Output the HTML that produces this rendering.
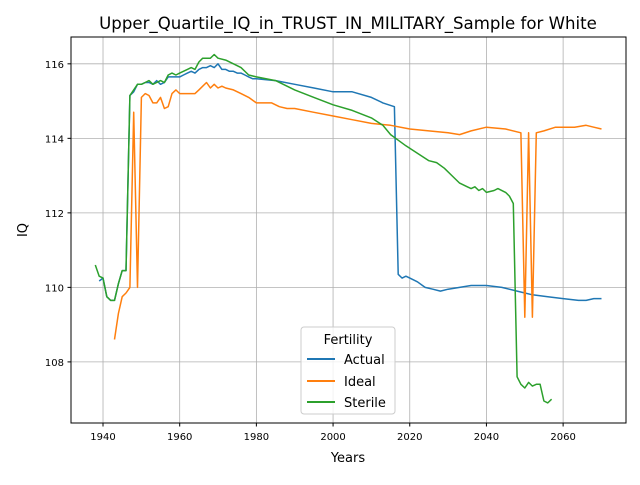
<!DOCTYPE html>
<html><head><meta charset="utf-8"><style>
body{margin:0;background:#fff}
text{font-family:"DejaVu Sans","Liberation Sans",sans-serif}
</style></head><body>
<svg id="chart" width="640" height="480" xmlns="http://www.w3.org/2000/svg">
<rect width="640" height="480" fill="#fff"/>
<text x="348" y="29" font-size="16.6" text-anchor="middle">Upper_Quartile_IQ_in_TRUST_IN_MILITARY_Sample for White</text>
<g id="grid"></g>
<g id="series"></g>
<rect x="71" y="37" width="555" height="386" fill="none" stroke="#000" stroke-width="1"/>
<g id="ticks"></g>
<text x="348" y="462" font-size="13" text-anchor="middle">Years</text>
<text x="27" y="230" font-size="13" text-anchor="middle" transform="rotate(-90 27 230)">IQ</text>
<g>
<rect x="301" y="327" width="94" height="87" rx="3" fill="#fff" fill-opacity="0.8" stroke="#ccc"/>
<text x="348" y="344" font-size="13" text-anchor="middle">Fertility</text>
<line x1="307" y1="359" x2="335" y2="359" stroke="#1f77b4" stroke-width="2"/>
<text x="344" y="364" font-size="13">Actual</text>
<line x1="307" y1="381" x2="335" y2="381" stroke="#ff7f0e" stroke-width="2"/>
<text x="344" y="386" font-size="13">Ideal</text>
<line x1="307" y1="402" x2="335" y2="402" stroke="#2ca02c" stroke-width="2"/>
<text x="344" y="407" font-size="13">Sterile</text>
</g>
</svg>
<script>
const xTicks=[1940,1960,1980,2000,2020,2040,2060];
const yTicks=[108,110,112,114,116];
const actualYears=[1939,1940,1941,1942,1943,1944,1945,1946,1947,1948,1949,1950,1951,1952,1953,1954,1955,1956,1957,1958,1959,1960,1961,1962,1963,1964,1965,1966,1967,1968,1969,1970,1971,1972,1973,1974,1975,1976,1977,1978,1979,1980,1985,1990,1995,2000,2005,2010,2013,2016,2017,2018,2019,2020,2022,2024,2026,2028,2030,2033,2036,2040,2044,2048,2052,2056,2060,2064,2066,2068,2070];
const actualValues=[110.17,110.25,109.75,109.65,109.65,110.1,110.45,110.45,115.15,115.25,115.45,115.45,115.5,115.5,115.45,115.55,115.45,115.5,115.65,115.65,115.65,115.65,115.7,115.75,115.8,115.75,115.85,115.9,115.9,115.95,115.9,116.0,115.85,115.85,115.8,115.8,115.75,115.75,115.7,115.65,115.6,115.6,115.55,115.45,115.35,115.25,115.25,115.1,114.95,114.85,110.35,110.25,110.3,110.25,110.15,110.0,109.95,109.9,109.95,110.0,110.05,110.05,110.0,109.9,109.8,109.75,109.7,109.65,109.65,109.7,109.7];
const idealYears=[1943,1944,1945,1946,1947,1948,1949,1950,1951,1952,1953,1954,1955,1956,1957,1958,1959,1960,1962,1964,1965,1966,1967,1968,1969,1970,1971,1972,1974,1976,1978,1980,1982,1984,1986,1988,1990,1995,2000,2005,2010,2015,2020,2025,2030,2033,2036,2040,2045,2049,2050,2051,2052,2053,2055,2058,2060,2063,2066,2068,2070];
const idealValues=[108.6,109.3,109.75,109.85,110.0,114.7,110.0,115.1,115.2,115.15,114.95,114.95,115.1,114.8,114.85,115.2,115.3,115.2,115.2,115.2,115.3,115.4,115.5,115.35,115.45,115.35,115.4,115.35,115.3,115.2,115.1,114.95,114.95,114.95,114.85,114.8,114.8,114.7,114.6,114.5,114.4,114.35,114.25,114.2,114.15,114.1,114.2,114.3,114.25,114.15,109.2,114.15,109.2,114.15,114.2,114.3,114.3,114.3,114.35,114.3,114.25];
const sterileYears=[1938,1939,1940,1941,1942,1943,1944,1945,1946,1947,1948,1949,1950,1951,1952,1953,1954,1955,1956,1957,1958,1959,1960,1962,1963,1964,1965,1966,1968,1969,1970,1972,1974,1976,1978,1980,1985,1990,1995,2000,2005,2010,2013,2015,2017,2019,2022,2025,2027,2029,2031,2033,2035,2036,2037,2038,2039,2040,2042,2043,2045,2046,2047,2048,2049,2050,2051,2052,2053,2054,2055,2056,2057];
const sterileValues=[110.6,110.3,110.25,109.75,109.65,109.65,110.1,110.45,110.45,115.15,115.3,115.45,115.45,115.5,115.55,115.45,115.5,115.55,115.5,115.7,115.75,115.7,115.75,115.85,115.9,115.85,116.05,116.15,116.15,116.25,116.15,116.1,116.0,115.9,115.7,115.65,115.55,115.3,115.1,114.9,114.75,114.55,114.35,114.1,113.95,113.8,113.6,113.4,113.35,113.2,113.0,112.8,112.7,112.65,112.7,112.6,112.65,112.55,112.6,112.65,112.55,112.45,112.25,107.6,107.4,107.3,107.45,107.35,107.4,107.4,106.95,106.9,107.0];
const X0=71,X1=626,Y0=423,Y1=37,xmin=1931.65,xmax=2076.4,ymin=106.36,ymax=116.72;
function sx(v){return X0+(v-xmin)/(xmax-xmin)*(X1-X0);}
function sy(v){return Y0-(v-ymin)/(ymax-ymin)*(Y0-Y1);}
const NS='http://www.w3.org/2000/svg';
const grid=document.getElementById('grid'),ticks=document.getElementById('ticks'),ser=document.getElementById('series');
function mk(tag,attrs,parent){const e=document.createElementNS(NS,tag);for(const k in attrs)e.setAttribute(k,attrs[k]);parent.appendChild(e);return e;}
xTicks.forEach(t=>{const x=sx(t);
 const g=mk('line',{x1:x,x2:x,y1:Y1,y2:Y0,stroke:'#b0b0b0','stroke-width':0.8},grid);
 
 
 mk('line',{x1:x,x2:x,y1:Y0,y2:Y0+3.5,stroke:'#000'},ticks);
 const tx=mk('text',{x:x,y:Y0+17,'font-size':10,'text-anchor':'middle'},ticks);tx.textContent=t;
 
 
});
yTicks.forEach(t=>{const y=sy(t);
 const g=mk('line',{x1:X0,x2:X1,y1:y,y2:y,stroke:'#b0b0b0','stroke-width':0.8},grid);
 
 
 mk('line',{x1:X0-3.5,x2:X0,y1:y,y2:y,stroke:'#000'},ticks);
 const tx=mk('text',{x:X0-7,y:y+4,'font-size':10,'text-anchor':'end'},ticks);tx.textContent=t;
 
 
});
function line(xs,ys,color,name){
 const p=mk('polyline',{points:xs.map((x,i)=>sx(x).toFixed(1)+','+sy(ys[i]).toFixed(1)).join(' '),fill:'none',stroke:color,'stroke-width':1.5,'stroke-linejoin':'round'},ser);
 
 
}
line(actualYears,actualValues,'#1f77b4','actual-line');
line(idealYears,idealValues,'#ff7f0e','ideal-line');
line(sterileYears,sterileValues,'#2ca02c','sterile-line');
</script>
</body></html>
